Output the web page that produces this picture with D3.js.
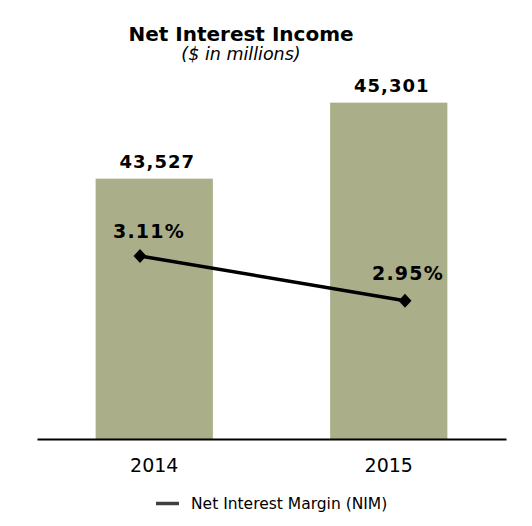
<!DOCTYPE html>
<html>
<head>
<meta charset="utf-8">
<script src="https://cdnjs.cloudflare.com/ajax/libs/d3/7.8.5/d3.min.js"></script>
<style>
  body { margin: 0; background: #fff; }
  text { font-family: "DejaVu Sans", Verdana, sans-serif; }
</style>
</head>
<body>
<script>
  // data
  var years = ["2014", "2015"];
  var income = [43527, 45301];
  var nim = [3.11, 2.95];
  var nimLabels = ["3.11%", "2.95%"];

  var w = 532, h = 526;
  var baseY = 439;

  var svg = d3.select("body").append("svg")
      .attr("width", w)
      .attr("height", h);

  var x = d3.scaleBand()
      .domain(years)
      .range([37, 506])
      .paddingInner(0.5)
      .paddingOuter(0.25);

  // bars don't start at zero in the original
  var y = d3.scaleLinear()
      .domain([37450, 46000])
      .range([baseY, 72.7]);

  // line sits on its own category positions
  var xLine = d3.scalePoint()
      .domain(years)
      .range([140, 405]);

  var yLine = d3.scaleLinear()
      .domain([2.5, 3.5])
      .range([426.4, 147]);

  // title
  svg.append("text")
      .attr("x", 241).attr("y", 41)
      .attr("text-anchor", "middle")
      .attr("font-size", "20px")
      .attr("font-weight", "bold")
      .attr("font-family", "'DejaVu Sans Condensed', 'DejaVu Sans', sans-serif")
      .text("Net Interest Income");

  svg.append("text")
      .attr("x", 241).attr("y", 60)
      .attr("text-anchor", "middle")
      .attr("font-size", "17.5px")
      .attr("font-style", "italic")
      .attr("font-family", "'DejaVu Sans Condensed', 'DejaVu Sans', sans-serif")
      .text("($ in millions)");

  // bars
  svg.selectAll("rect.bar")
      .data(income)
      .enter()
      .append("rect")
      .attr("class", "bar")
      .attr("x", function(d, i) { return x(years[i]); })
      .attr("y", function(d) { return y(d); })
      .attr("width", x.bandwidth())
      .attr("height", function(d) { return baseY - y(d); })
      .attr("fill", "#aaaf89");

  // bar value labels
  svg.selectAll("text.val")
      .data(income)
      .enter()
      .append("text")
      .attr("class", "val")
      .attr("x", function(d, i) { return x(years[i]) + x.bandwidth() / 2 + 3; })
      .attr("y", function(d) { return y(d) - 11; })
      .attr("text-anchor", "middle")
      .attr("font-size", "18px")
      .attr("letter-spacing", "1px")
      .attr("font-weight", "bold")
      .text(function(d) { return d3.format(",")(d); });

  // baseline / x axis
  var xAxis = d3.axisBottom(x).tickSize(0).tickPadding(20);
  var gx = svg.append("g")
      .attr("transform", "translate(0," + baseY + ")")
      .call(xAxis);
  gx.select(".domain").attr("stroke", "#000").attr("stroke-width", 2);
  gx.selectAll("text")
      .attr("font-size", "19px")
      .attr("font-family", "'DejaVu Sans', sans-serif")
      .attr("fill", "#000");

  // NIM line
  var line = d3.line()
      .x(function(d, i) { return xLine(years[i]); })
      .y(function(d) { return yLine(d); });

  svg.append("path")
      .datum(nim)
      .attr("d", line)
      .attr("fill", "none")
      .attr("stroke", "#000")
      .attr("stroke-width", 3.5);

  svg.selectAll("path.marker")
      .data(nim)
      .enter()
      .append("path")
      .attr("class", "marker")
      .attr("transform", function(d, i) {
        return "translate(" + xLine(years[i]) + "," + yLine(d) + ")";
      })
      .attr("d", "M0,-7L6.5,0L0,7L-6.5,0Z")
      .attr("fill", "#000");

  svg.selectAll("text.nim")
      .data(nim)
      .enter()
      .append("text")
      .attr("class", "nim")
      .attr("x", function(d, i) { return xLine(years[i]) + (i == 0 ? 9 : 3); })
      .attr("y", function(d, i) { return yLine(d) - (i == 0 ? 18 : 21); })
      .attr("text-anchor", "middle")
      .attr("font-size", "19px")
      .attr("letter-spacing", "1.2px")
      .attr("font-weight", "bold")
      .text(function(d, i) { return nimLabels[i]; });

  // legend
  var legend = svg.append("g");
  legend.append("line")
      .attr("x1", 156).attr("x2", 179)
      .attr("y1", 503.5).attr("y2", 503.5)
      .attr("stroke", "#404040")
      .attr("stroke-width", 3.5);
  legend.append("text")
      .attr("x", 191).attr("y", 509)
      .attr("font-size", "15.5px")
      .attr("font-family", "'DejaVu Sans Condensed', 'DejaVu Sans', sans-serif")
      .text("Net Interest Margin (NIM)");
</script>
</body>
</html>
